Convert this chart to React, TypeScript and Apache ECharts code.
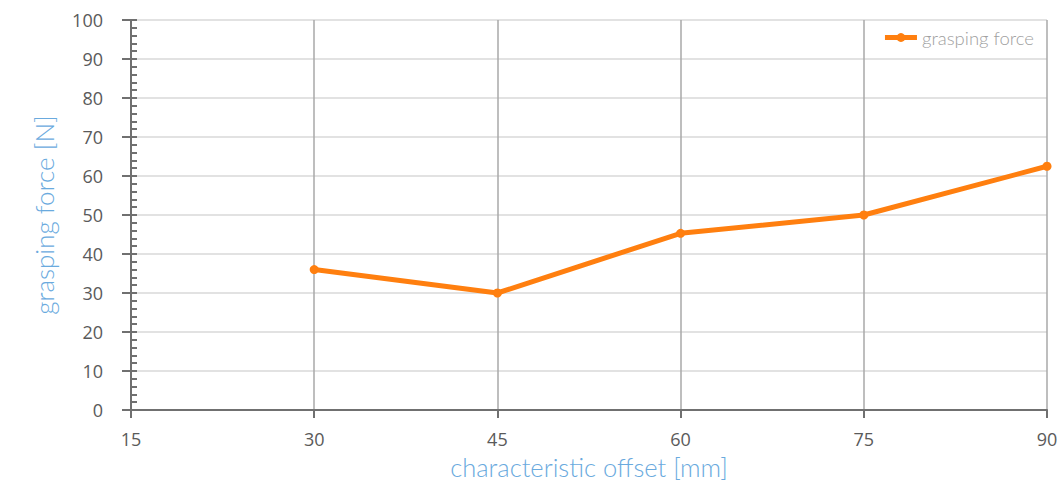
import React, { useEffect, useRef } from "react";
import * as echarts from "echarts";

const offsets = [30, 45, 60, 75, 90];
const forces = [36, 30, 45.3, 50, 62.5];
const seriesName = "grasping force";
const xName = "characteristic offset [mm]";
const yName = "grasping force [N]";

export default function App() {
  const ref = useRef<HTMLDivElement>(null);
  useEffect(() => {
    const chart = echarts.init(ref.current!, null, { renderer: "svg" });
    const tickFont = { fontFamily: "Open Sans", fontSize: 18, color: "#5a5a5a" };
    const nameFont = { color: "#6aaade", fontFamily: "Lato", fontWeight: 300 };
    chart.setOption({
      animation: false,
      backgroundColor: "#fff",
      grid: { left: 131, right: 16, top: 20, bottom: 72, containLabel: false, outerBoundsMode: "none" },
      legend: {
        right: 24,
        top: 23,
        itemWidth: 32,
        itemHeight: 11,
        itemGap: 10,
        lineStyle: { width: 5 },
        textStyle: { color: "#a0a0a0", fontSize: 18.5, fontFamily: "Lato", fontWeight: 300 },
        data: [seriesName],
      },
      xAxis: {
        type: "value",
        min: 15,
        max: 90,
        interval: 15,
        name: xName,
        nameLocation: "middle",
        nameGap: 44,
        nameTextStyle: { ...nameFont, fontSize: 25.5 },
        axisLine: { show: true, lineStyle: { color: "#707070", width: 2 } },
        axisTick: { show: true, inside: false, length: 8, lineStyle: { color: "#707070", width: 2 } },
        axisLabel: { ...tickFont, margin: 20 },
        splitLine: { show: true, lineStyle: { color: "#a8a8a8", width: 1.5 } },
      },
      yAxis: [
        {
          type: "value",
          min: 0,
          max: 100,
          interval: 10,
          name: yName,
          nameLocation: "middle",
          nameGap: 74,
          nameTextStyle: { ...nameFont, fontSize: 26 },
          axisLine: { show: true, lineStyle: { color: "#707070", width: 2 } },
          axisTick: { show: true, inside: true, length: 6, lineStyle: { color: "#707070", width: 2 } },
          minorTick: { show: true, splitNumber: 5, length: 6, lineStyle: { color: "#707070", width: 2 } },
          axisLabel: { ...tickFont, margin: 28 },
          splitLine: { show: true, lineStyle: { color: "#d9d9d9", width: 1.5 } },
        },
        {
          type: "value",
          position: "left",
          offset: 0,
          min: 0,
          max: 100,
          interval: 10,
          axisLine: { show: false },
          axisTick: { show: true, inside: false, length: 9, lineStyle: { color: "#707070", width: 2 } },
          axisLabel: { show: false },
          splitLine: { show: false },
        },
      ],
      series: [
        {
          name: seriesName,
          type: "line",
          data: offsets.map((x, i) => [x, forces[i]]),
          symbol: "circle",
          symbolSize: 9,
          lineStyle: { color: "#ff7f0f", width: 5 },
          itemStyle: { color: "#ff7f0f" },
          z: 5,
        },
      ],
    });
    return () => chart.dispose();
  }, []);
  return <div ref={ref} style={{ width: 1063, height: 482, position: "absolute", left: 0, top: 0 }} />;
}
